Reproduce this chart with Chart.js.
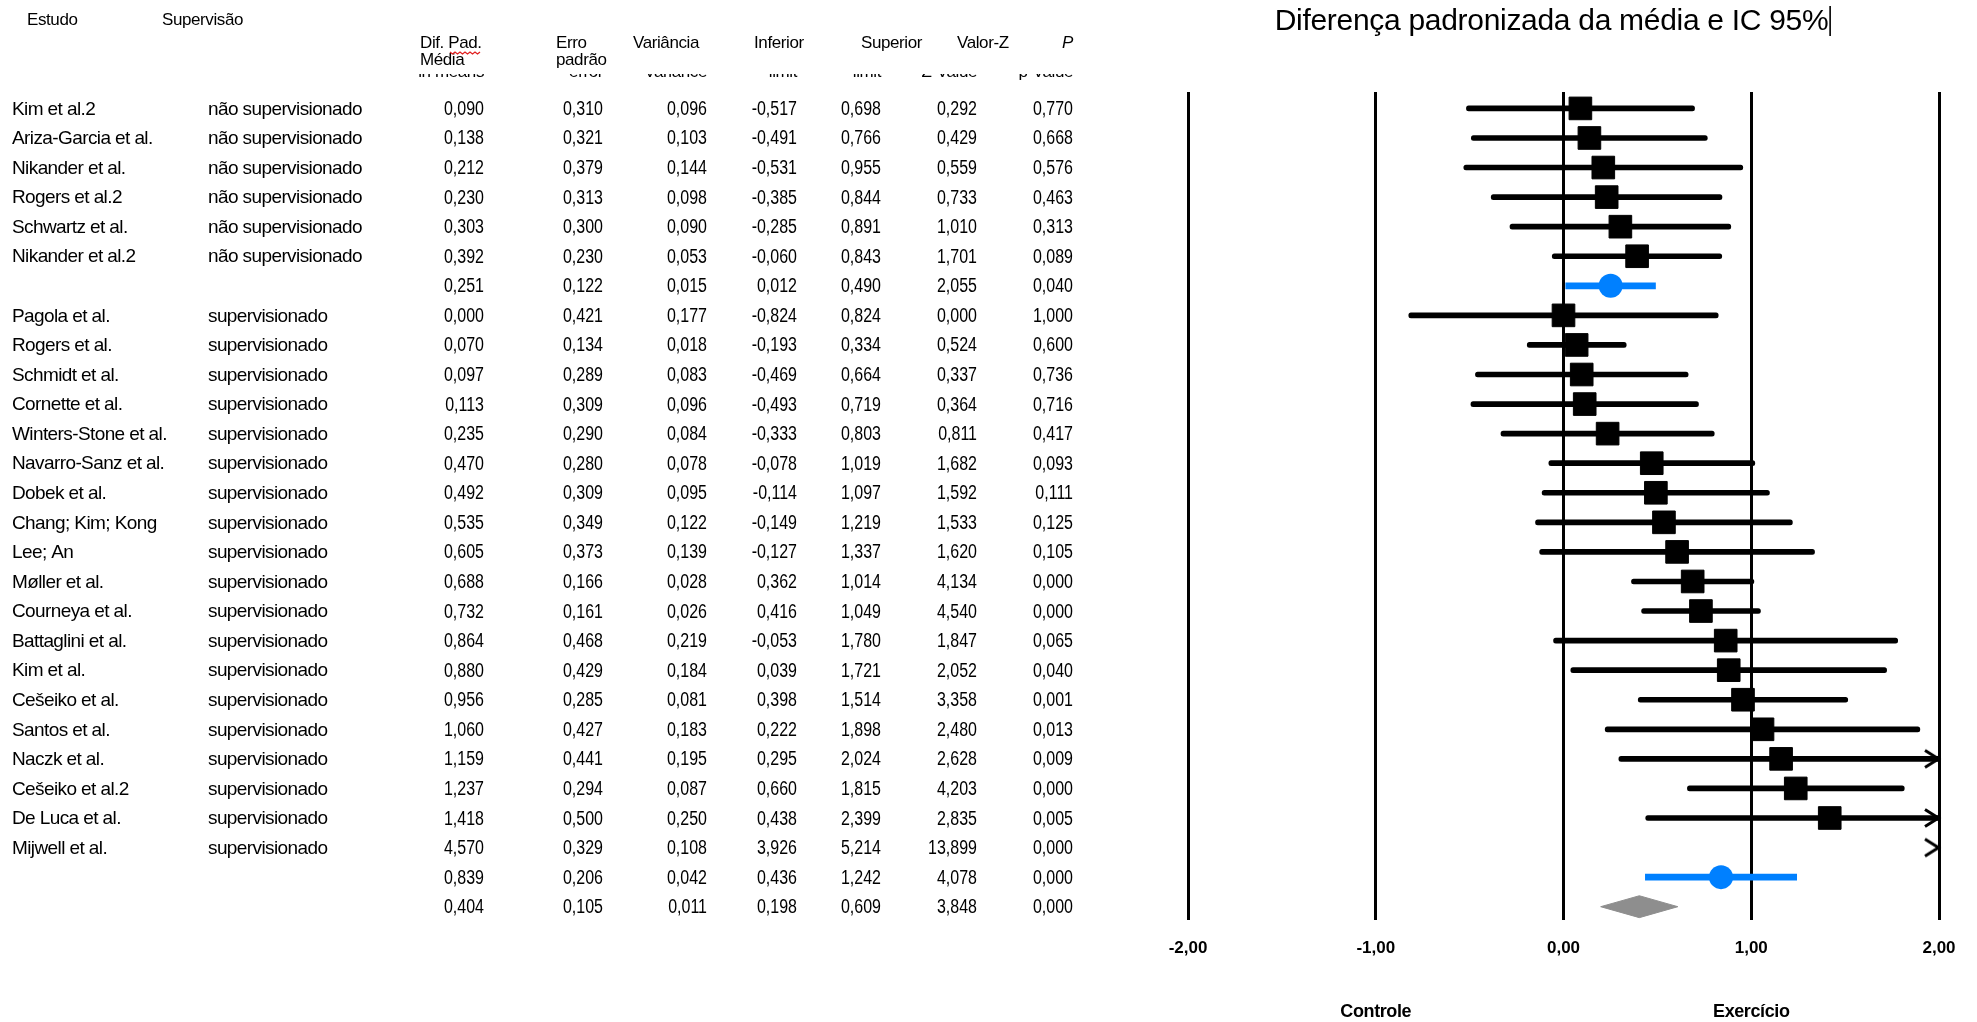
<!DOCTYPE html>
<html>
<head>
<meta charset="utf-8">
<script src="https://cdn.jsdelivr.net/npm/chart.js@4.4.1/dist/chart.umd.min.js"></script>
<style>
  html, body { margin: 0; padding: 0; background: #ffffff; overflow: hidden; }
  #wrap { position: relative; width: 1977px; height: 1022px; }
</style>
</head>
<body>
<div id="wrap"><canvas id="forest" width="1977" height="1022"></canvas></div>
<script>
// ---- Study table (one entry per row; empty names are pooled rows) ----
const studies = [
  'Kim et al.2', 'Ariza-Garcia et al.', 'Nikander et al.', 'Rogers et al.2', 'Schwartz et al.', 'Nikander et al.2', '',
  'Pagola et al.', 'Rogers et al.', 'Schmidt et al.', 'Cornette et al.', 'Winters-Stone et al.', 'Navarro-Sanz et al.',
  'Dobek et al.', 'Chang; Kim; Kong', 'Lee; An', 'Møller et al.', 'Courneya et al.', 'Battaglini et al.', 'Kim et al.',
  'Cešeiko et al.', 'Santos et al.', 'Naczk et al.', 'Cešeiko et al.2', 'De Luca et al.', 'Mijwell et al.', '', ''
];
const supervision = [
  'não supervisionado', 'não supervisionado', 'não supervisionado', 'não supervisionado', 'não supervisionado', 'não supervisionado', '',
  'supervisionado', 'supervisionado', 'supervisionado', 'supervisionado', 'supervisionado', 'supervisionado',
  'supervisionado', 'supervisionado', 'supervisionado', 'supervisionado', 'supervisionado', 'supervisionado', 'supervisionado',
  'supervisionado', 'supervisionado', 'supervisionado', 'supervisionado', 'supervisionado', 'supervisionado', '', ''
];
// study = single trial, subtotal = pooled by supervision group, overall = pooled total
const rowKind = [
  'study', 'study', 'study', 'study', 'study', 'study', 'subtotal',
  'study', 'study', 'study', 'study', 'study', 'study', 'study', 'study', 'study', 'study',
  'study', 'study', 'study', 'study', 'study', 'study', 'study', 'study', 'study', 'subtotal', 'overall'
];
const smd = [0.090, 0.138, 0.212, 0.230, 0.303, 0.392, 0.251,
  0.000, 0.070, 0.097, 0.113, 0.235, 0.470, 0.492, 0.535, 0.605, 0.688, 0.732, 0.864, 0.880,
  0.956, 1.060, 1.159, 1.237, 1.418, 4.570, 0.839, 0.404];
const stdErr = [0.310, 0.321, 0.379, 0.313, 0.300, 0.230, 0.122,
  0.421, 0.134, 0.289, 0.309, 0.290, 0.280, 0.309, 0.349, 0.373, 0.166, 0.161, 0.468, 0.429,
  0.285, 0.427, 0.441, 0.294, 0.500, 0.329, 0.206, 0.105];
const variance = [0.096, 0.103, 0.144, 0.098, 0.090, 0.053, 0.015,
  0.177, 0.018, 0.083, 0.096, 0.084, 0.078, 0.095, 0.122, 0.139, 0.028, 0.026, 0.219, 0.184,
  0.081, 0.183, 0.195, 0.087, 0.250, 0.108, 0.042, 0.011];
const lower = [-0.517, -0.491, -0.531, -0.385, -0.285, -0.060, 0.012,
  -0.824, -0.193, -0.469, -0.493, -0.333, -0.078, -0.114, -0.149, -0.127, 0.362, 0.416, -0.053, 0.039,
  0.398, 0.222, 0.295, 0.660, 0.438, 3.926, 0.436, 0.198];
const upper = [0.698, 0.766, 0.955, 0.844, 0.891, 0.843, 0.490,
  0.824, 0.334, 0.664, 0.719, 0.803, 1.019, 1.097, 1.219, 1.337, 1.014, 1.049, 1.780, 1.721,
  1.514, 1.898, 2.024, 1.815, 2.399, 5.214, 1.242, 0.609];
const zValue = [0.292, 0.429, 0.559, 0.733, 1.010, 1.701, 2.055,
  0.000, 0.524, 0.337, 0.364, 0.811, 1.682, 1.592, 1.533, 1.620, 4.134, 4.540, 1.847, 2.052,
  3.358, 2.480, 2.628, 4.203, 2.835, 13.899, 4.078, 3.848];
const pValue = [0.770, 0.668, 0.576, 0.463, 0.313, 0.089, 0.040,
  1.000, 0.600, 0.736, 0.716, 0.417, 0.093, 0.111, 0.125, 0.105, 0.000, 0.000, 0.065, 0.040,
  0.001, 0.013, 0.009, 0.000, 0.005, 0.000, 0.000, 0.000];

// ---- Axis ----
const xMin = -2, xMax = 2;
const axisTicks = [-2, -1, 0, 1, 2];
const favoursLeft = 'Controle';
const favoursRight = 'Exercício';
const plotTitle = 'Diferença padronizada da média e IC 95%';

// ---- Column headers ----
const headerStudy = 'Estudo';
const headerGroup = 'Supervisão';
const statHeaders = [['Dif. Pad.', 'Média'], ['Erro', 'padrão'], ['Variância'], ['Inferior'], ['Superior'], ['Valor-Z'], ['P']];
const statSubHeaders = ['in means', 'error', 'Variance', 'limit', 'limit', 'Z-Value', 'p-Value'];

// ---- Styling / layout ----
const FONT = '"Liberation Sans", Arial, sans-serif';
const BLUE = '#0080ff';
const statColumns = [smd, stdErr, variance, lower, upper, zValue, pValue];
const colRight = [484, 603, 707, 797, 881, 977, 1073];
const headerLeft = [420, 556, 633, 754, 861, 957, null];
const numSqueeze = 0.8;

const fmt = v => v.toFixed(3).replace('.', ',');
const rows = studies.map((_, i) => i);

// chevron drawn where an interval runs past the right edge of the axis
function makeChevron() {
  const c = document.createElement('canvas');
  c.width = 34; c.height = 24;
  const g = c.getContext('2d');
  g.strokeStyle = '#000';
  g.lineWidth = 3;
  g.beginPath();
  g.moveTo(3, 3.5); g.lineTo(16.5, 12); g.lineTo(3, 20.5);
  g.stroke();
  return c;
}

const studyRows = rows.filter(i => rowKind[i] === 'study');
const subtotalRows = rows.filter(i => rowKind[i] === 'subtotal');
const overallRow = rows.find(i => rowKind[i] === 'overall');
const clippedRows = studyRows.filter(i => upper[i] > xMax);
const diamondHalf = 0.37;

function squeezedText(ctx, text, xRight, y) {
  ctx.save();
  ctx.translate(xRight, y);
  ctx.scale(numSqueeze, 1);
  ctx.fillText(text, 0, 0);
  ctx.restore();
}

const tablePlugin = {
  id: 'forestTable',
  afterDraw(chart) {
    const ctx = chart.ctx;
    const ys = chart.scales.y;
    const xs = chart.scales.x;
    ctx.save();
    ctx.fillStyle = '#000';

    // body rows
    ctx.textBaseline = 'middle';
    rows.forEach(i => {
      const py = ys.getPixelForValue(i) + 1;
      ctx.font = '19px ' + FONT;
      ctx.letterSpacing = '-0.6px';
      ctx.textAlign = 'left';
      if (studies[i]) ctx.fillText(studies[i], 12, py);
      if (supervision[i]) ctx.fillText(supervision[i], 208, py);
      ctx.font = '20px ' + FONT;
      ctx.letterSpacing = '0px';
      ctx.textAlign = 'right';
      statColumns.forEach((col, k) => squeezedText(ctx, fmt(col[i]), colRight[k], py));
    });

    // headers
    ctx.font = '17px ' + FONT;
    ctx.letterSpacing = '-0.4px';
    ctx.textAlign = 'left';
    ctx.fillText(headerStudy, 27, 20);
    ctx.fillText(headerGroup, 162, 20);
    statHeaders.forEach((lines, k) => {
      if (headerLeft[k] === null) {
        ctx.font = 'italic 17px ' + FONT;
        ctx.textAlign = 'right';
        ctx.fillText(lines[0], colRight[k], 43);
        ctx.font = '17px ' + FONT;
        ctx.textAlign = 'left';
        return;
      }
      lines.forEach((t, j) => ctx.fillText(t, headerLeft[k], 43 + j * 17));
    });

    // spell-check squiggle under "Pad."
    ctx.strokeStyle = '#e02020';
    ctx.lineWidth = 1.3;
    ctx.beginPath();
    for (let px = 450; px <= 482; px += 2.5) {
      const py = 52 + (Math.round((px - 450) / 2.5) % 2 === 0 ? 0 : 2);
      if (px === 450) ctx.moveTo(px, py); else ctx.lineTo(px, py);
    }
    ctx.stroke();

    // partly hidden header line beneath (only its lower edge shows)
    ctx.save();
    ctx.beginPath();
    ctx.rect(400, 74, 700, 6);
    ctx.clip();
    ctx.font = '17px ' + FONT;
    ctx.textAlign = 'right';
    ctx.textBaseline = 'alphabetic';
    statSubHeaders.forEach((t, k) => ctx.fillText(t, colRight[k], 77));
    ctx.restore();

    // title and caret
    const cx = (xs.left + xs.right) / 2 - 12;
    ctx.font = '30px ' + FONT;
    ctx.letterSpacing = '-0.3px';
    ctx.textAlign = 'center';
    ctx.textBaseline = 'middle';
    ctx.fillText(plotTitle, cx, 22);
    const tw = ctx.measureText(plotTitle).width;
    ctx.fillRect(cx + tw / 2 + 1, 6, 1.6, 30);

    // favours labels
    ctx.font = 'bold 18px ' + FONT;
    ctx.letterSpacing = '-0.4px';
    ctx.fillText(favoursLeft, xs.getPixelForValue(-1), 1012);
    ctx.fillText(favoursRight, xs.getPixelForValue(1), 1012);
    ctx.restore();
  }
};

new Chart(document.getElementById('forest'), {
  type: 'scatter',
  data: {
    datasets: [
      {
        label: 'Estudos',
        data: studyRows.map(i => ({ x: smd[i], y: i })),
        pointStyle: 'rect',
        pointRadius: 16,
        backgroundColor: '#000',
        borderColor: '#000',
        borderWidth: 1,
        order: 1
      },
      {
        label: 'Subtotal',
        data: subtotalRows.map(i => ({ x: smd[i], y: i })),
        pointStyle: 'circle',
        pointRadius: 12,
        backgroundColor: BLUE,
        borderColor: BLUE,
        borderWidth: 0,
        order: 1
      },
      {
        label: 'Seta',
        data: clippedRows.map(i => ({ x: xMax, y: i })),
        pointStyle: makeChevron(),
        clip: false,
        order: 2
      },
      {
        type: 'line',
        label: 'Total',
        data: [
          { x: lower[overallRow], y: overallRow },
          { x: smd[overallRow], y: overallRow - diamondHalf },
          { x: upper[overallRow], y: overallRow },
          { x: smd[overallRow], y: overallRow + diamondHalf },
          { x: lower[overallRow], y: overallRow }
        ],
        borderColor: '#8e8e8e',
        backgroundColor: '#8e8e8e',
        borderWidth: 1,
        pointRadius: 0,
        tension: 0,
        fill: 'shape',
        order: 2
      },
      {
        type: 'bar',
        label: 'IC 95%',
        indexAxis: 'y',
        grouped: false,
        data: studyRows.map(i => ({ y: i, x: [lower[i], upper[i]] })),
        backgroundColor: '#000',
        barThickness: 5,
        borderRadius: 2.5,
        borderSkipped: false,
        order: 3
      },
      {
        type: 'bar',
        label: 'IC 95% subtotal',
        indexAxis: 'y',
        grouped: false,
        data: subtotalRows.map(i => ({ y: i, x: [lower[i], upper[i]] })),
        backgroundColor: BLUE,
        barThickness: 6,
        borderSkipped: false,
        order: 3
      }
    ]
  },
  options: {
    responsive: false,
    animation: false,
    events: [],
    layout: { padding: { left: 1188, right: 38, top: 92, bottom: 0 } },
    plugins: { legend: { display: false }, tooltip: { enabled: false }, title: { display: false } },
    scales: {
      x: {
        type: 'linear',
        min: xMin,
        max: xMax,
        offset: false,
        afterBuildTicks: s => { s.ticks = axisTicks.map(v => ({ value: v })); },
        afterFit: s => { s.height = 102; },
        border: { display: false },
        grid: { color: '#000', lineWidth: 3, drawTicks: false, offset: false },
        ticks: {
          padding: 18,
          color: '#000',
          font: { family: FONT, size: 17, weight: 'bold' },
          callback: v => v.toFixed(2).replace('.', ',')
        }
      },
      y: {
        type: 'linear',
        reverse: true,
        offset: false,
        min: -0.555,
        max: rows.length - 0.55,
        grid: { offset: false },
        display: false
      }
    }
  },
  plugins: [tablePlugin]
});
</script>
</body>
</html>
